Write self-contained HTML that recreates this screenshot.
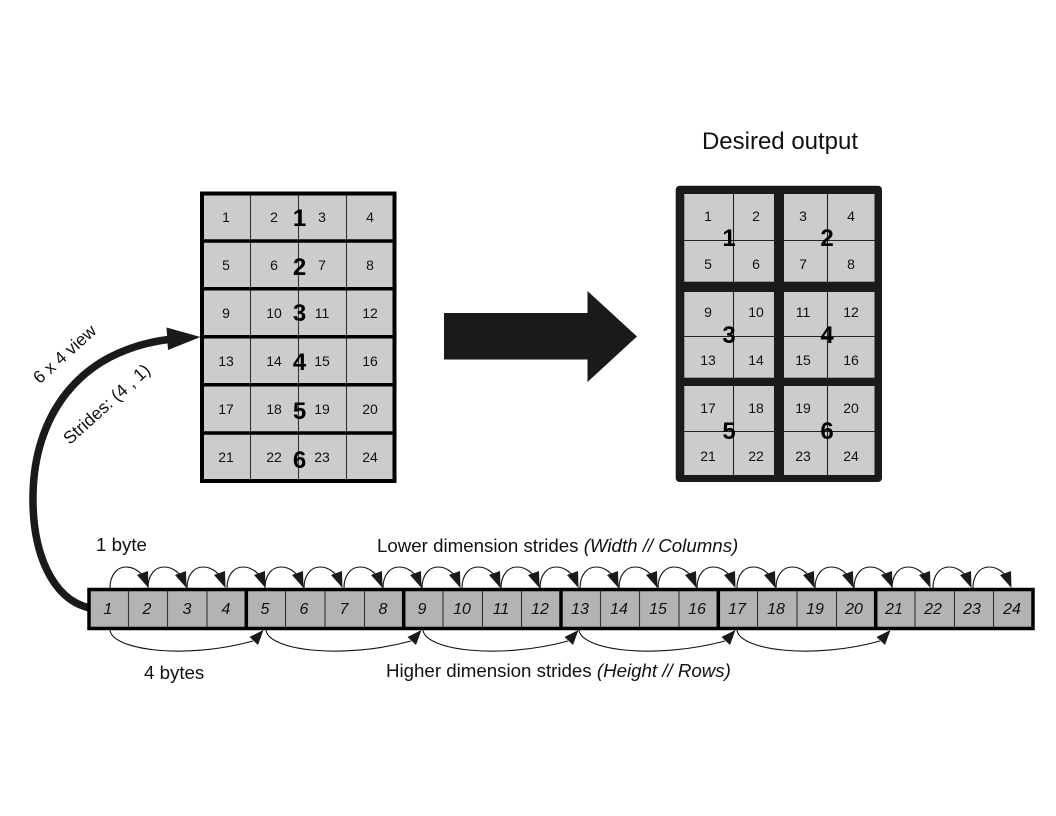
<!DOCTYPE html>
<html>
<head>
<meta charset="utf-8">
<style>
html,body{margin:0;padding:0;background:#fff;width:1056px;height:816px;overflow:hidden}
svg{display:block}
text{font-family:"Liberation Sans",sans-serif;fill:#111}
.n text{font-size:14px;text-anchor:middle}
.b text{font-size:24px;font-weight:bold;text-anchor:middle;fill:#000}
.a text{font-size:16px;font-style:italic;text-anchor:middle}
.l{font-size:18.7px}
</style>
</head>
<body>
<svg width="1056" height="816" viewBox="0 0 1056 816" xmlns="http://www.w3.org/2000/svg">
<defs>
<g id="arc">
<path d="M0 0C0-13 7-21 16-21C25-21 32-15 36-7" fill="none" stroke="#111" stroke-width="1.100"/>
<polygon points="38.500,0 27,-13 38,-17" fill="#1a1a1a"/>
</g>
</defs>

<text x="780" y="149" text-anchor="middle" style="font-size:24px">Desired output</text>

<!-- left grid -->
<rect x="202" y="193.500" width="192.500" height="287.500" fill="#ccc"/>
<path d="M250.500 193V481M298.500 193V481M346.500 193V481" stroke="#333" stroke-width="1.100" fill="none"/>
<rect x="202" y="193.500" width="192.500" height="287.500" fill="none" stroke="#000" stroke-width="4"/>
<path d="M202 241H394.500M202 288.700H394.500M202 336.700H394.500M202 384.700H394.500M202 433H394.500" stroke="#000" stroke-width="3.500" fill="none"/>
<g class="n">
<text x="226" y="222">1</text><text x="274" y="222">2</text><text x="322" y="222">3</text><text x="370" y="222">4</text>
<text x="226" y="270">5</text><text x="274" y="270">6</text><text x="322" y="270">7</text><text x="370" y="270">8</text>
<text x="226" y="318">9</text><text x="274" y="318">10</text><text x="322" y="318">11</text><text x="370" y="318">12</text>
<text x="226" y="366">13</text><text x="274" y="366">14</text><text x="322" y="366">15</text><text x="370" y="366">16</text>
<text x="226" y="414">17</text><text x="274" y="414">18</text><text x="322" y="414">19</text><text x="370" y="414">20</text>
<text x="226" y="462">21</text><text x="274" y="462">22</text><text x="322" y="462">23</text><text x="370" y="462">24</text>
</g>
<g class="b">
<text x="299.500" y="226">1</text><text x="299.500" y="275">2</text><text x="299.500" y="321">3</text><text x="299.500" y="370">4</text><text x="299.500" y="419">5</text><text x="299.500" y="468">6</text>
</g>

<!-- big arrow -->
<polygon points="444,313 587.500,313 587.500,291 637,336.500 587.500,382 587.500,359.500 444,359.500" fill="#1a1a1a"/>

<!-- right grid -->
<rect x="675.700" y="185.700" width="206.300" height="296.300" rx="4" fill="#1a1a1a"/>
<rect x="684.300" y="194" width="89.700" height="87.700" fill="#ccc"/>
<rect x="784" y="194" width="90.500" height="87.700" fill="#ccc"/>
<rect x="684.300" y="292" width="89.700" height="85.700" fill="#ccc"/>
<rect x="784" y="292" width="90.500" height="85.700" fill="#ccc"/>
<rect x="684.300" y="386" width="89.700" height="89" fill="#ccc"/>
<rect x="784" y="386" width="90.500" height="89" fill="#ccc"/>
<path d="M733.500 194V281.700M827.500 194V281.700M733.500 292V377.700M827.500 292V377.700M733.500 386V475M827.500 386V475M684 240.500H774M784 240.500H874.500M684 336.500H774M784 336.500H874.500M684 431.500H774M784 431.500H874.500" stroke="#222" stroke-width="1.100" fill="none"/>
<g class="n">
<text x="708" y="221">1</text><text x="756" y="221">2</text><text x="803" y="221">3</text><text x="851" y="221">4</text>
<text x="708" y="269">5</text><text x="756" y="269">6</text><text x="803" y="269">7</text><text x="851" y="269">8</text>
<text x="708" y="317">9</text><text x="756" y="317">10</text><text x="803" y="317">11</text><text x="851" y="317">12</text>
<text x="708" y="365">13</text><text x="756" y="365">14</text><text x="803" y="365">15</text><text x="851" y="365">16</text>
<text x="708" y="413">17</text><text x="756" y="413">18</text><text x="803" y="413">19</text><text x="851" y="413">20</text>
<text x="708" y="461">21</text><text x="756" y="461">22</text><text x="803" y="461">23</text><text x="851" y="461">24</text>
</g>
<g class="b">
<text x="729" y="246">1</text><text x="827" y="246">2</text><text x="729" y="343">3</text><text x="827" y="343">4</text><text x="729" y="439">5</text><text x="827" y="439">6</text>
</g>

<!-- curved view arrow -->
<path d="M90 608C52 600 32 552 33 495C34 420 75 350 172 339" fill="none" stroke="#1a1a1a" stroke-width="7.500"/>
<polygon points="200.500,337 166.500,327.500 168,350" fill="#1a1a1a"/>
<text transform="translate(65.500 355) rotate(-42)" text-anchor="middle" dominant-baseline="middle" style="font-size:17.500px">6 x 4 view</text>
<text transform="translate(107.500 405) rotate(-42)" text-anchor="middle" dominant-baseline="middle" style="font-size:17.500px">Strides: (4 , 1)</text>

<!-- array -->
<rect x="89" y="589.500" width="944" height="39" fill="#b3b3b3"/>
<path d="M128.500 590V628M167.500 590V628M207 590V628M285.500 590V628M325 590V628M364.500 590V628M443 590V628M482.500 590V628M521.500 590V628M600.500 590V628M639.500 590V628M679 590V628M757.500 590V628M797 590V628M836.500 590V628M915 590V628M954.500 590V628M993.500 590V628" stroke="#333" stroke-width="1.100" fill="none"/>
<rect x="89" y="589.500" width="944" height="39" fill="none" stroke="#000" stroke-width="3.500"/>
<path d="M246.300 589V629M403.700 589V629M561 589V629M718.300 589V629M875.700 589V629" stroke="#000" stroke-width="3.500" fill="none"/>
<g class="a">
<text x="108" y="614">1</text><text x="147" y="614">2</text><text x="187" y="614">3</text><text x="226" y="614">4</text>
<text x="265" y="614">5</text><text x="304" y="614">6</text><text x="344" y="614">7</text><text x="383" y="614">8</text>
<text x="422" y="614">9</text><text x="462" y="614">10</text><text x="501" y="614">11</text><text x="540" y="614">12</text>
<text x="580" y="614">13</text><text x="619" y="614">14</text><text x="658" y="614">15</text><text x="697" y="614">16</text>
<text x="737" y="614">17</text><text x="776" y="614">18</text><text x="815" y="614">19</text><text x="854" y="614">20</text>
<text x="894" y="614">21</text><text x="933" y="614">22</text><text x="972" y="614">23</text><text x="1012" y="614">24</text>
</g>

<!-- upper arcs -->
<g transform="translate(0 588)">
<use href="#arc" x="110"/><use href="#arc" x="148"/><use href="#arc" x="187"/><use href="#arc" x="227"/>
<use href="#arc" x="265"/><use href="#arc" x="304"/><use href="#arc" x="344"/><use href="#arc" x="383"/>
<use href="#arc" x="422"/><use href="#arc" x="462"/><use href="#arc" x="501"/><use href="#arc" x="540"/>
<use href="#arc" x="580"/><use href="#arc" x="619"/><use href="#arc" x="658"/><use href="#arc" x="697"/>
<use href="#arc" x="737"/><use href="#arc" x="776"/><use href="#arc" x="815"/><use href="#arc" x="854"/>
<use href="#arc" x="892"/><use href="#arc" x="933"/><use href="#arc" x="973"/>
</g>

<!-- lower arcs -->
<g fill="none" stroke="#111" stroke-width="1.100">
<path d="M110 630C112 650 185 660 253 641"/>
<path d="M266 630C268 650 341 660 411 641"/>
<path d="M423 630C425 650 498 660 568 641"/>
<path d="M579 630C581 650 654 660 725 641"/>
<path d="M737 630C739 650 812 660 880 641"/>
</g>
<g fill="#1a1a1a">
<polygon points="263.500,630 249.500,637 258,645"/>
<polygon points="421.500,630 407.500,637 416,645"/>
<polygon points="578.500,630 564.500,637 573,645"/>
<polygon points="735.500,630 721.500,637 730,645"/>
<polygon points="890.500,630 876.500,637 885,645"/>
</g>

<text class="l" x="96" y="551">1 byte</text>
<text class="l" x="144" y="679">4 bytes</text>
<text class="l" x="377" y="552">Lower dimension strides <tspan font-style="italic">(Width // Columns)</tspan></text>
<text class="l" x="386" y="677">Higher dimension strides <tspan font-style="italic">(Height // Rows)</tspan></text>
</svg>
</body>
</html>
